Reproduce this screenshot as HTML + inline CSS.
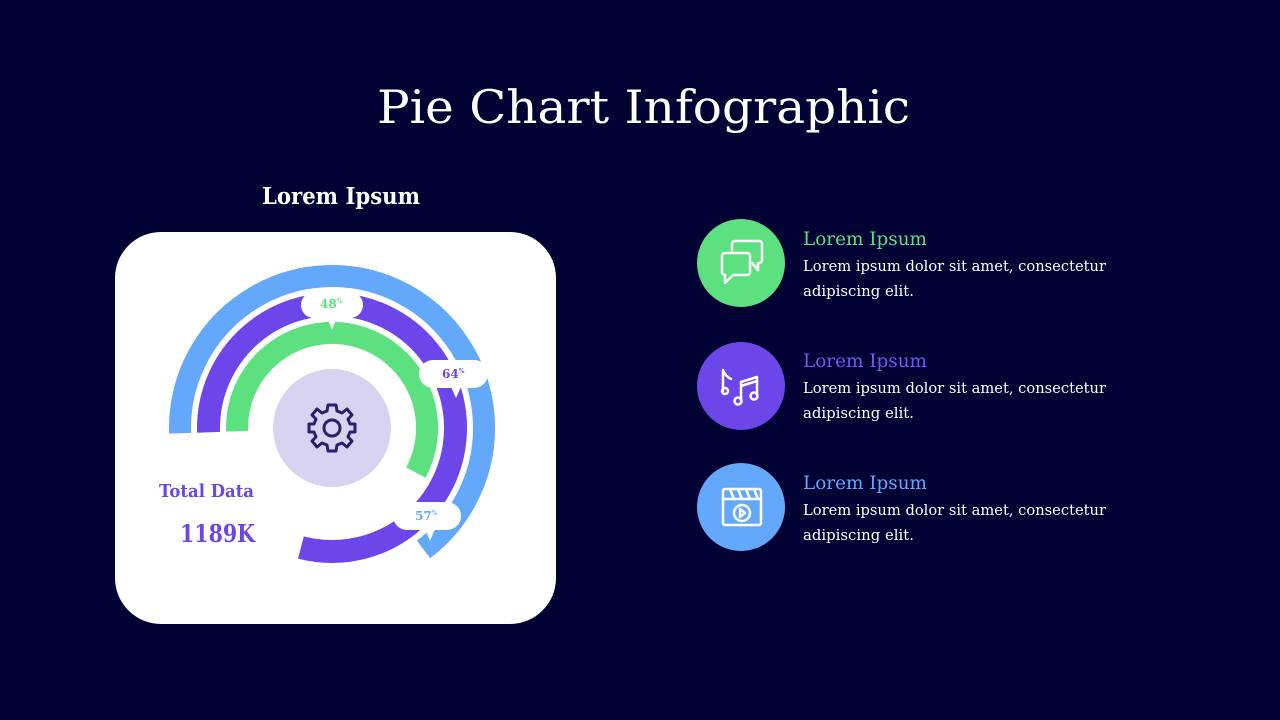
<!DOCTYPE html>
<html><head><meta charset="utf-8"><style>
html,body{margin:0;padding:0;background:#000033;}
svg{display:block}
text{font-family:"DejaVu Serif","Liberation Serif",serif;}
</style></head><body>
<svg width="1280" height="720" viewBox="0 0 1280 720" xmlns="http://www.w3.org/2000/svg">
<rect width="1280" height="720" fill="#010133"/>
<text x="377" y="123" font-size="46" fill="#fff" textLength="533" lengthAdjust="spacingAndGlyphs">Pie Chart Infographic</text>
<text x="262" y="204" font-size="23" font-weight="bold" fill="#fff" textLength="158" lengthAdjust="spacingAndGlyphs">Lorem Ipsum</text>
<rect x="115" y="232" width="441" height="392" rx="46" fill="#fff"/>
<g fill="none" stroke-linecap="butt">
<path d="M180.1 433.3 A152 152 0 1 1 423.5 549.4" stroke="#63a8fb" stroke-width="22"/>
<path d="M208.6 432.3 A123.5 123.5 0 1 1 300.9 547.5" stroke="#6c46e8" stroke-width="23"/>
<path d="M237.1 431.3 A95 95 0 1 1 415.9 472.6" stroke="#5ce080" stroke-width="22"/>
</g>
<circle cx="332" cy="428" r="59" fill="#d7d3f0"/>
<g transform="translate(332,428)" fill="none" stroke="#2a1f6b" stroke-width="3" stroke-linejoin="round">
<path d="M-4 -23 L4 -23 L5 -17 L10 -15 L15 -19 L20 -13 L16 -9 L18 -4 L23 -4 L23 4 L18 4 L16 9 L20 13 L15 19 L10 15 L5 17 L4 23 L-4 23 L-5 17 L-10 15 L-15 19 L-20 13 L-16 9 L-18 4 L-23 4 L-23 -4 L-18 -4 L-16 -9 L-20 -13 L-15 -19 L-10 -15 L-5 -17 Z"/>
<circle r="8"/>
</g>
<g fill="#fff">
<rect x="301" y="292" width="62" height="26" rx="13"/><path d="M327 317 L337 317 L332 330 Z"/>
<rect x="419" y="360" width="69" height="28" rx="14"/><path d="M451 387 L461 387 L456 398 Z"/>
<rect x="393" y="502" width="68" height="28" rx="14"/><path d="M425 529 L435 529 L430 541 Z"/>
</g>
<g font-size="12" font-weight="bold">
<text x="320" y="308" fill="#5ce080">48<tspan font-size="6" dy="-5">%</tspan></text>
<text x="442" y="378" fill="#6c46e8">64<tspan font-size="6" dy="-5">%</tspan></text>
<text x="415" y="520" fill="#63a8fb">57<tspan font-size="6" dy="-5">%</tspan></text>
</g>
<text x="159" y="497" font-size="18" font-weight="bold" fill="#6c46e8" textLength="95" lengthAdjust="spacingAndGlyphs">Total Data</text>
<text x="180" y="542" font-size="24" font-weight="bold" fill="#6c46e8" textLength="75" lengthAdjust="spacingAndGlyphs">1189K</text>

<circle cx="741" cy="263" r="44" fill="#5ce080"/>
<circle cx="741" cy="386" r="44" fill="#6c46e8"/>
<circle cx="741" cy="507" r="44" fill="#63a8fb"/>
<g fill="none" stroke="#fff" stroke-width="2.5" stroke-linejoin="round" stroke-linecap="round">
<path d="M732 250 v-6 a3 3 0 0 1 3 -3 h24 a3 3 0 0 1 3 3 v16 a3 3 0 0 1 -3 3 h-1 v7 l-6 -7"/>
<path d="M722 256 a3 3 0 0 1 3 -3 h22 a3 3 0 0 1 3 3 v16 a3 3 0 0 1 -3 3 h-14 l-8 8 v-8 h0 a3 3 0 0 1 -3 -3 z"/>
<path d="M723 391 v-21 q2 6 8 9"/><circle cx="725" cy="391" r="3"/>
<path d="M741 400 v-18 l16 -5 v18 M741 386 l16 -5"/><circle cx="738" cy="401" r="3.5"/><circle cx="754" cy="396" r="3.5"/>
<rect x="723" y="489" width="38" height="36" rx="2"/><path d="M723 499 h38 M730 489 l4 10 M738 489 l4 10 M746 489 l4 10 M754 489 l4 10"/>
<circle cx="742" cy="513" r="8"/><path d="M740 509 l5 4 l-5 4 z"/>
</g>
<g font-size="19">
<text x="803" y="245" fill="#5ce080" textLength="124" lengthAdjust="spacingAndGlyphs">Lorem Ipsum</text>
<text x="803" y="367" fill="#7a55f0" textLength="124" lengthAdjust="spacingAndGlyphs">Lorem Ipsum</text>
<text x="803" y="489" fill="#63a8fb" textLength="124" lengthAdjust="spacingAndGlyphs">Lorem Ipsum</text>
</g>
<g font-size="15" fill="#fff">
<text x="803" y="271" textLength="303" lengthAdjust="spacingAndGlyphs">Lorem ipsum dolor sit amet, consectetur</text>
<text x="803" y="296" textLength="111" lengthAdjust="spacingAndGlyphs">adipiscing elit.</text>
<text x="803" y="393" textLength="303" lengthAdjust="spacingAndGlyphs">Lorem ipsum dolor sit amet, consectetur</text>
<text x="803" y="418" textLength="111" lengthAdjust="spacingAndGlyphs">adipiscing elit.</text>
<text x="803" y="515" textLength="303" lengthAdjust="spacingAndGlyphs">Lorem ipsum dolor sit amet, consectetur</text>
<text x="803" y="540" textLength="111" lengthAdjust="spacingAndGlyphs">adipiscing elit.</text>
</g>
</svg>
</body></html>
